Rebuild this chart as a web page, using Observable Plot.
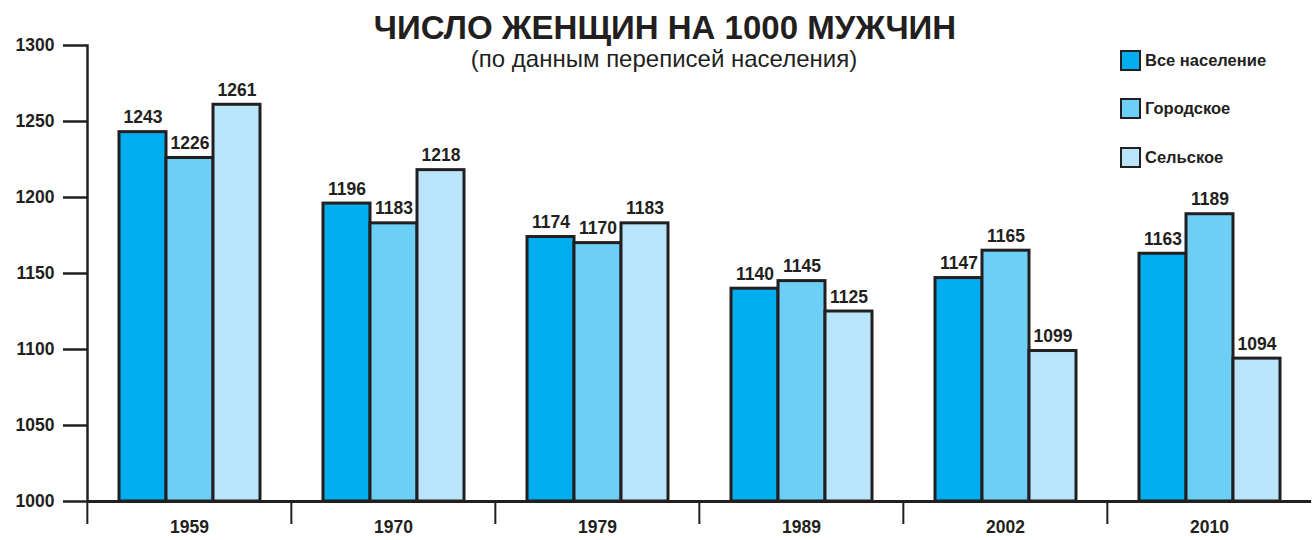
<!DOCTYPE html>
<html>
<head>
<meta charset="utf-8">
<script src="https://cdn.jsdelivr.net/npm/d3@7"></script>
<script src="https://cdn.jsdelivr.net/npm/@observablehq/plot@0.6"></script>
<style>
  body { margin: 0; background: #fff; }
  #wrap { position: relative; width: 1312px; height: 540px; overflow: hidden; font-family: "Liberation Sans", Arial, sans-serif; color: #231f20; }
  #title { position: absolute; left: 0; top: 13px; width: 1330px; text-align: center; font-size: 33px; line-height: 30px; font-weight: bold; }
  #subtitle { position: absolute; left: 0; top: 47px; width: 1328px; text-align: center; font-size: 24px; line-height: 24px; }
  #legend { position: absolute; left: 1120px; top: 49px; }
  .item { display: flex; align-items: center; height: 22px; margin-bottom: 26.5px; font-size: 16.5px; font-weight: bold; }
  .sw { width: 17px; height: 17px; border: 2.5px solid #231f20; margin-right: 4px; }
  #chart { position: absolute; left: 0; top: 0; }
</style>
</head>
<body>
<div id="wrap">
  <div id="chart"></div>
  <div id="title"></div>
  <div id="subtitle"></div>
  <div id="legend"></div>
</div>
<script>
const titleText = "ЧИСЛО ЖЕНЩИН НА 1000 МУЖЧИН";
const subtitleText = "(по данным переписей населения)";
const years = ["1959", "1970", "1979", "1989", "2002", "2010"];
const seriesNames = ["Все население", "Городское", "Сельское"];
const allPopulation = [1243, 1196, 1174, 1140, 1147, 1163];
const urban = [1226, 1183, 1170, 1145, 1165, 1189];
const rural = [1261, 1218, 1183, 1125, 1099, 1094];
const seriesColors = ["#00aeef", "#6dcff6", "#b9e5fb"];
const yTicks = [1000, 1050, 1100, 1150, 1200, 1250, 1300];
const yDomain = [1000, 1300];

const ink = "#231f20";
const W = 1312, H = 540, ML = 86, MR = 0, MT = 45, MB = 39;
const step = (W - ML - MR) / years.length;

const seriesValues = [allPopulation, urban, rural];
const data = years.flatMap((yr, i) =>
  seriesValues.map((arr, j) => ({year: yr, series: seriesNames[j], value: arr[i]}))
);

document.getElementById("title").textContent = titleText;
document.getElementById("subtitle").textContent = subtitleText;
const legend = document.getElementById("legend");
seriesNames.forEach((name, j) => {
  const it = document.createElement("div");
  it.className = "item";
  const sw = document.createElement("div");
  sw.className = "sw";
  sw.style.background = seriesColors[j];
  const tx = document.createElement("span");
  tx.textContent = name;
  it.appendChild(sw); it.appendChild(tx);
  legend.appendChild(it);
});

const chart = Plot.plot({
  width: W, height: H,
  marginTop: MT, marginBottom: MB, marginLeft: ML, marginRight: MR,
  style: {fontFamily: "'Liberation Sans', Arial, sans-serif", fontSize: "17.5px", fontWeight: "bold", color: ink, background: "transparent"},
  fx: {domain: years, padding: 0, label: null, axis: null},
  x: {domain: seriesNames, paddingInner: 0, paddingOuter: 0.63, axis: null},
  y: {domain: yDomain, axis: null},
  color: {domain: seriesNames, range: seriesColors},
  marks: [
    Plot.barY(data, {fx: "year", x: "series", y1: yDomain[0], y2: "value", fill: "series", stroke: ink, strokeWidth: 3}),
    Plot.ruleY([yDomain[0]], {stroke: ink, strokeWidth: 3}),
    Plot.frame({anchor: "left", facetAnchor: "left", stroke: ink, strokeWidth: 2.5}),
    Plot.axisY({ticks: yTicks, tickFormat: d => String(d), tickSize: 24, tickPadding: 9, stroke: ink, strokeWidth: 2.5, fontSize: 17.5, fontWeight: "bold", label: null}),
    Plot.axisFx({anchor: "bottom", domain: years, tickSize: 23, tickFormat: () => "", dx: -step / 2, stroke: ink, strokeWidth: 2, label: null}),
    Plot.axisFx({anchor: "bottom", domain: years, tickSize: 0, tickPadding: 19, fontSize: 17.5, fontWeight: "bold", label: null}),
    Plot.text(data, {fx: "year", x: "series", y: "value", text: d => String(d.value), lineAnchor: "bottom", dy: -9, fontSize: 17.5, fontWeight: "bold", fill: ink})
  ]
});
document.getElementById("chart").appendChild(chart);
</script>
</body>
</html>
